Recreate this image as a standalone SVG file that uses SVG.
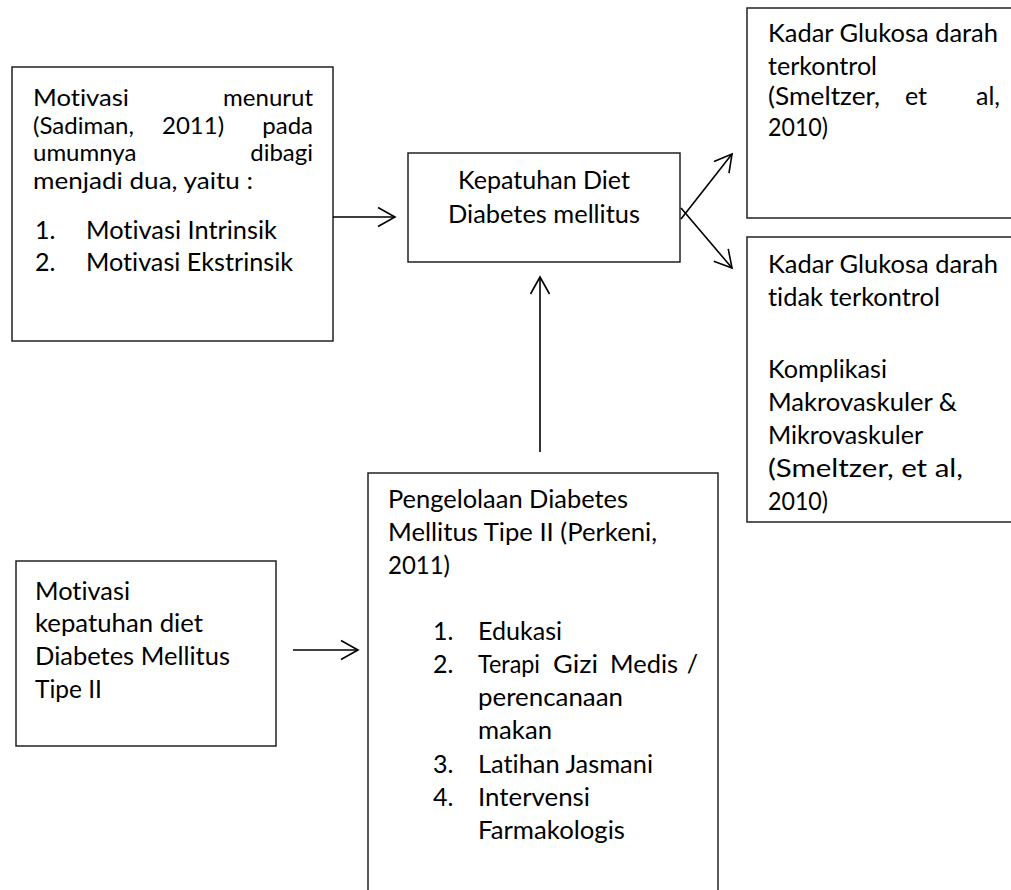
<svg xmlns="http://www.w3.org/2000/svg" width="1011" height="890" viewBox="0 0 1011 890">
<style>
  .box { fill: #fff; stroke: #222; stroke-width: 1.5; }
  .t { font-family: Lato, "Open Sans", "Liberation Sans", sans-serif; font-size: 25px; fill: #000; font-variant-ligatures: none; font-feature-settings: "liga" 0, "clig" 0, "dlig" 0; }
  .s { font-size: 24px; }
  .e { text-anchor: end; }
  .conn { fill: none; stroke: #000; stroke-width: 1.6; marker-end: url(#open); }
</style>
<defs>
  <marker id="open" markerUnits="userSpaceOnUse" orient="auto" markerWidth="40" markerHeight="40" viewBox="-20 -20 40 40" refX="0" refY="0" overflow="visible">
    <path d="M-17,-9.5 L0,0 L-17,9.5" fill="none" stroke="#000" stroke-width="1.6"/>
  </marker>
</defs>
<rect width="1011" height="890" fill="#fff"/>

<g id="node-motivasi-menurut">
  <rect class="box" x="12" y="67" width="321" height="274"/>
  <text class="t s" x="33" y="106" textLength="96" lengthAdjust="spacingAndGlyphs">Motivasi</text>
  <text class="t s e" x="313" y="106">menurut</text>
  <text class="t s" x="33" y="134">(Sadiman,</text>
  <text class="t s" x="162" y="134">2011)</text>
  <text class="t s e" x="313" y="134">pada</text>
  <text class="t s" x="33" y="161">umumnya</text>
  <text class="t s e" x="313" y="161">dibagi</text>
  <text class="t s" x="33" y="189" textLength="220" lengthAdjust="spacingAndGlyphs">menjadi dua, yaitu :</text>
  <text class="t" x="35" y="239">1.</text>
  <text class="t" x="86" y="239" textLength="191" lengthAdjust="spacingAndGlyphs">Motivasi Intrinsik</text>
  <text class="t" x="35" y="271">2.</text>
  <text class="t" x="86" y="271" textLength="207" lengthAdjust="spacingAndGlyphs">Motivasi Ekstrinsik</text>
</g>

<g id="node-kepatuhan">
  <rect class="box" x="408" y="153" width="272" height="109"/>
  <text class="t" x="458" y="189" textLength="172" lengthAdjust="spacingAndGlyphs">Kepatuhan Diet</text>
  <text class="t" x="448" y="223" textLength="192" lengthAdjust="spacingAndGlyphs">Diabetes mellitus</text>
</g>

<g id="node-terkontrol">
  <rect class="box" x="747" y="8" width="290" height="210"/>
  <text class="t" x="768" y="42" textLength="230" lengthAdjust="spacingAndGlyphs">Kadar Glukosa darah</text>
  <text class="t" x="768" y="75" textLength="109" lengthAdjust="spacingAndGlyphs">terkontrol</text>
  <text class="t" x="768" y="105" textLength="112" lengthAdjust="spacingAndGlyphs">(Smeltzer,</text>
  <text class="t" x="905" y="105">et</text>
  <text class="t e" x="1000" y="105">al,</text>
  <text class="t" x="768" y="136" textLength="60" lengthAdjust="spacingAndGlyphs">2010)</text>
</g>

<g id="node-tidak-terkontrol">
  <rect class="box" x="747" y="237" width="290" height="285"/>
  <text class="t" x="768" y="273" textLength="230" lengthAdjust="spacingAndGlyphs">Kadar Glukosa darah</text>
  <text class="t" x="768" y="306" textLength="172" lengthAdjust="spacingAndGlyphs">tidak terkontrol</text>
  <text class="t" x="768" y="378" textLength="119" lengthAdjust="spacingAndGlyphs">Komplikasi</text>
  <text class="t" x="768" y="411" textLength="189" lengthAdjust="spacingAndGlyphs">Makrovaskuler &amp;</text>
  <text class="t" x="768" y="444" textLength="155" lengthAdjust="spacingAndGlyphs">Mikrovaskuler</text>
  <text class="t" x="768" y="477" textLength="195" lengthAdjust="spacingAndGlyphs">(Smeltzer, et al,</text>
  <text class="t" x="768" y="510" textLength="60" lengthAdjust="spacingAndGlyphs">2010)</text>
</g>

<g id="node-motivasi-kepatuhan">
  <rect class="box" x="16" y="561" width="260" height="185"/>
  <text class="t" x="35" y="600" textLength="95" lengthAdjust="spacingAndGlyphs">Motivasi</text>
  <text class="t" x="35" y="632" textLength="168" lengthAdjust="spacingAndGlyphs">kepatuhan diet</text>
  <text class="t" x="35" y="665" textLength="195" lengthAdjust="spacingAndGlyphs">Diabetes Mellitus</text>
  <text class="t" x="35" y="698" textLength="67" lengthAdjust="spacingAndGlyphs">Tipe II</text>
</g>

<g id="node-pengelolaan">
  <rect class="box" x="368" y="473" width="350" height="430"/>
  <text class="t" x="388" y="508" textLength="240" lengthAdjust="spacingAndGlyphs">Pengelolaan Diabetes</text>
  <text class="t" x="388" y="541" textLength="269" lengthAdjust="spacingAndGlyphs">Mellitus Tipe II (Perkeni,</text>
  <text class="t" x="388" y="574" textLength="62" lengthAdjust="spacingAndGlyphs">2011)</text>
  <text class="t" x="433" y="640">1.</text>
  <text class="t" x="478" y="640" textLength="84" lengthAdjust="spacingAndGlyphs">Edukasi</text>
  <text class="t" x="433" y="673">2.</text>
  <text class="t" x="478" y="673" textLength="62" lengthAdjust="spacingAndGlyphs">Terapi</text>
  <text class="t" x="553" y="673" textLength="45" lengthAdjust="spacingAndGlyphs">Gizi</text>
  <text class="t" x="610" y="673" textLength="68" lengthAdjust="spacingAndGlyphs">Medis</text>
  <text class="t e" x="698" y="673">/</text>
  <text class="t" x="478" y="706" textLength="145" lengthAdjust="spacingAndGlyphs">perencanaan</text>
  <text class="t" x="478" y="739" textLength="74" lengthAdjust="spacingAndGlyphs">makan</text>
  <text class="t" x="433" y="773">3.</text>
  <text class="t" x="478" y="773" textLength="175" lengthAdjust="spacingAndGlyphs">Latihan Jasmani</text>
  <text class="t" x="433" y="806">4.</text>
  <text class="t" x="478" y="806" textLength="112" lengthAdjust="spacingAndGlyphs">Intervensi</text>
  <text class="t" x="478" y="839" textLength="147" lengthAdjust="spacingAndGlyphs">Farmakologis</text>
</g>

<g id="connectors">
  <path class="conn" d="M333,217 L395,217"/>
  <path class="conn" d="M540,452 L540,277"/>
  <path class="conn" d="M681,219 L732,154"/>
  <path class="conn" d="M681,208 L732,268"/>
  <path class="conn" d="M293,650 L358,650"/>
</g>
</svg>
